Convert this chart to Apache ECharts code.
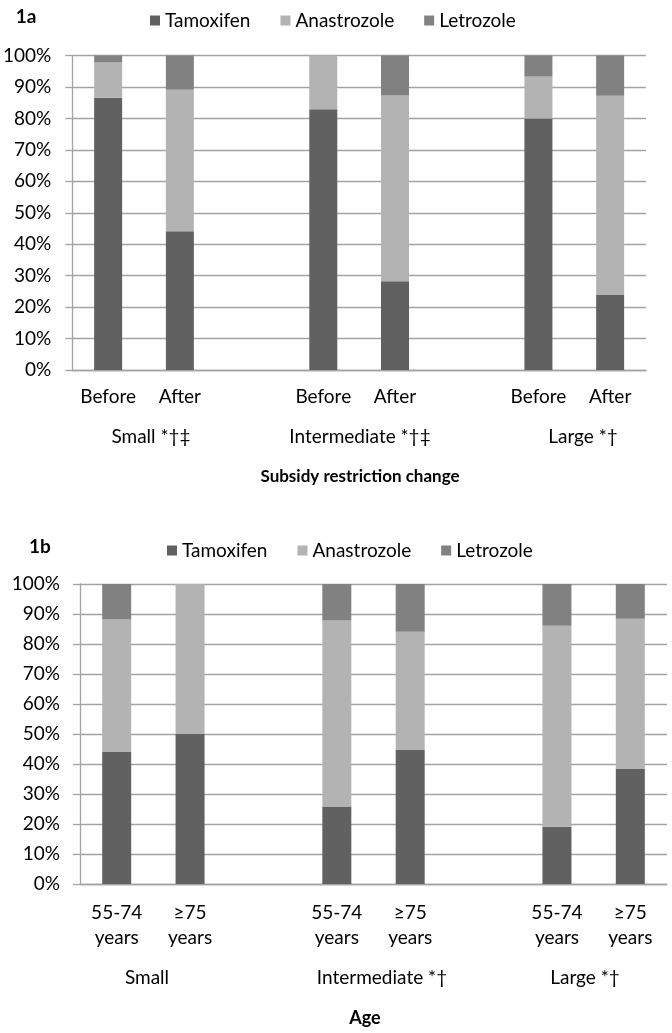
<!DOCTYPE html>
<html>
<head>
<meta charset="utf-8">
<script src="https://cdn.jsdelivr.net/npm/echarts@6/dist/echarts.min.js"></script>
<style>
html,body{margin:0;padding:0;background:#fff;}
#c{width:672px;height:1033px;}
</style>
</head>
<body>
<div id="c"></div>
<script>
// ---- data ----
const seriesNames = ['Tamoxifen', 'Anastrozole', 'Letrozole'];
const cats1a = ['Before', 'After', '', 'Before', 'After', '', 'Before', 'After'];
const tam1a = [86.6, 44.1, null, 82.9, 28.2, null, 80.0, 24.0];
const ana1a = [11.3, 45.0, null, 17.1, 59.1, null, 13.3, 63.2];
const let1a = [2.1, 10.9, null, 0, 12.7, null, 6.7, 12.8];
const groups1a = ['Small *†‡', 'Intermediate *†‡', 'Large *†'];
const axisTitle1a = 'Subsidy restriction change';

const cats1b = ['55-74\nyears', '≥75\nyears', '', '55-74\nyears', '≥75\nyears', '', '55-74\nyears', '≥75\nyears'];
const tam1b = [44.0, 50.0, null, 25.8, 44.7, null, 19.1, 38.3];
const ana1b = [44.2, 50.0, null, 62.0, 39.4, null, 67.0, 50.1];
const let1b = [11.8, 0, null, 12.2, 15.9, null, 13.9, 11.6];
const groups1b = ['Small', 'Intermediate *†', 'Large *†'];
const axisTitle1b = 'Age';

// ---- styling ----
const FONT = 'Lato';
const FS = 19;
const colors = ['#616161', '#b3b3b3', '#818181'];
const gridColor = '#a3a3a3';

function yAxis(gridIndex, margin) {
  return {
    type: 'value', gridIndex, min: 0, max: 100, interval: 10,
    axisLine: { show: true, lineStyle: { color: gridColor, width: 1.3 } },
    axisTick: { show: true, length: 7, lineStyle: { color: gridColor, width: 1.3 } },
    splitLine: { show: true, lineStyle: { color: gridColor, width: 1.3 } },
    axisLabel: { formatter: '{value}%', fontFamily: FONT, fontSize: FS, color: '#000', margin: margin }
  };
}
function xAxis(gridIndex, data, margin, lh) {
  return {
    type: 'category', gridIndex, data,
    axisLine: { show: true, lineStyle: { color: gridColor, width: 1.3 } },
    axisTick: { show: false },
    axisLabel: { interval: 0, fontFamily: FONT, fontSize: FS, color: '#000', margin: margin, lineHeight: lh }
  };
}
function bars(data, xi, names, bw) {
  return names.map((n, i) => ({
    name: n, type: 'bar', stack: 's' + xi, xAxisIndex: xi, yAxisIndex: xi,
    data: data[i], barWidth: bw, itemStyle: { color: colors[i] },
    emphasis: { disabled: true }
  }));
}
function txt(x, y, s, bold, fs) {
  return { type: 'text', x, y, style: { text: s, fontFamily: FONT, fontSize: fs || FS,
    fontWeight: bold ? 'bold' : 'normal', fill: '#000', align: 'center', verticalAlign: 'middle' } };
}

const legendCommon = {
  data: seriesNames, orient: 'horizontal', itemWidth: 10, itemHeight: 10, icon: 'rect',
  textStyle: { fontFamily: FONT, fontSize: FS, color: '#000' }, selectedMode: false
};

const option = {
  animation: false,
  grid: [
    { left: 70, right: 26, top: 55.5, bottom: 663 },
    { left: 80, right: 5, top: 584, bottom: 149 }
  ],
  legend: [
    Object.assign({ left: 145, top: 6, itemGap: 30 }, legendCommon),
    Object.assign({ left: 162, top: 536, itemGap: 30 }, legendCommon)
  ],
  xAxis: [xAxis(0, cats1a, 16, 22), xAxis(1, cats1b, 16, 25)],
  yAxis: [yAxis(0, 21), yAxis(1, 20)],
  series: [
    ...bars([tam1a, ana1a, let1a], 0, seriesNames, 28),
    ...bars([tam1b, ana1b, let1b], 1, seriesNames, 29)
  ],
  graphic: [
    txt(26, 17, '1a', true),
    txt(40, 547, '1b', true),
    txt(151, 437, groups1a[0]), txt(360, 437, groups1a[1]), txt(583, 437, groups1a[2]),
    txt(360, 477, axisTitle1a, true, 17),
    txt(147, 978, groups1b[0]), txt(382, 978, groups1b[1]), txt(585, 978, groups1b[2]),
    txt(365, 1018, axisTitle1b, true, 18)
  ]
};
const chart = echarts.init(document.getElementById('c'), null, { renderer: 'canvas' });
chart.setOption(option);
</script>
</body>
</html>
